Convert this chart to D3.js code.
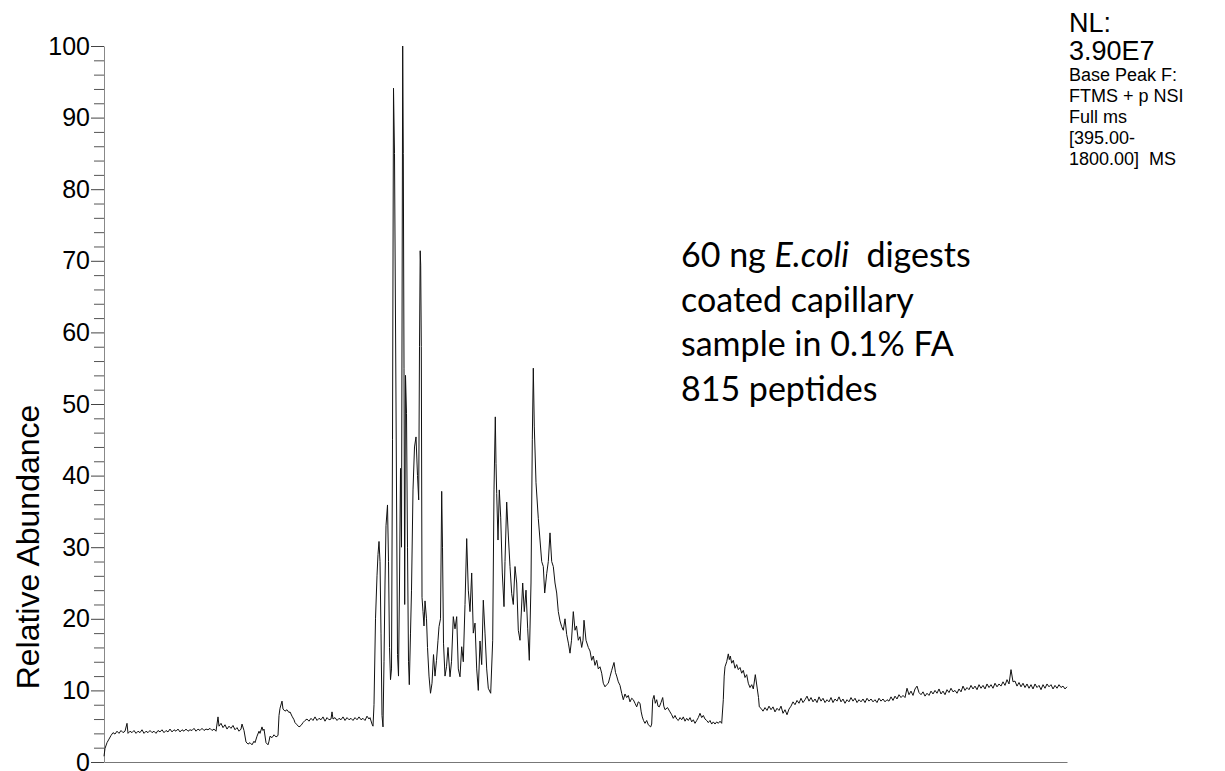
<!DOCTYPE html>
<html>
<head>
<meta charset="utf-8">
<script src="https://cdn.jsdelivr.net/npm/d3@7"></script>
<style>
  body { margin: 0; background: #fff; }
  svg { display: block; }
</style>
</head>
<body>
<div id="chart"></div>
<script>
// y axis ticks
var majorTicks = [0, 10, 20, 30, 40, 50, 60, 70, 80, 90, 100];
var minorTicks = [2, 4, 6, 8, 12, 14, 16, 18, 22, 24, 26, 28, 32, 34, 36, 38, 42, 44, 46, 48,
                  52, 54, 56, 58, 62, 64, 66, 68, 72, 74, 76, 78, 82, 84, 86, 88, 92, 94, 96, 98];

// base peak chromatogram: [retention time (min), relative abundance]
var tracePre = [
  [0.0,0.8],[0.1,1.9],[0.3,2.7],[0.5,3.2],[0.7,3.7],[0.9,4.1],[1.1,3.9],[1.3,4.3],[1.5,4.0],[1.7,4.4],
  [1.9,4.1],[2.1,4.3],[2.3,5.4],[2.4,4.0],[2.6,4.3],[2.8,4.1],[3.0,4.4],[3.2,4.0],[3.4,4.3],[3.6,4.1],
  [3.8,4.5],[4.0,4.0],[4.2,4.3],[4.4,4.1],[4.6,4.4],[4.8,4.1],[5.0,4.3],[5.2,4.0],[5.4,4.4],[5.6,4.2],
  [5.8,4.5],[6.0,4.1],[6.2,4.4],[6.4,4.2],[6.6,4.6],[6.8,4.2],[7.0,4.5],[7.2,4.3],[7.4,4.6],[7.6,4.2],
  [7.8,4.5],[8.0,4.3],[8.2,4.6],[8.4,4.3],[8.6,4.5],[8.8,4.4],[9.0,4.7],[9.2,4.3],[9.4,4.6],[9.6,4.4],
  [9.8,4.7],[10.0,4.4],[10.2,4.6],[10.4,4.5],[10.6,4.7],[10.8,4.4],[11.0,4.6],[11.2,4.3],[11.4,6.3],[11.5,5.0],
  [11.7,5.4],[11.9,4.8],[12.1,5.2],[12.3,4.6],[12.5,5.0],[12.7,4.7],[12.9,5.1],[13.1,4.5],[13.3,4.8],[13.5,4.3],
  [13.7,4.6],[13.8,5.3],[14.0,4.4],[14.2,2.8],[14.4,2.5],[14.6,2.7],[14.8,2.4],[15.0,2.9],[15.1,2.7],[15.3,3.6],
  [15.5,4.3],[15.6,4.0],[15.8,4.9],[15.9,4.4],[16.0,4.6],[16.2,2.7],[16.4,2.4],[16.5,2.9],[16.6,3.6],[16.8,3.4],
  [17.0,3.8],[17.2,3.5],[17.4,3.7],[17.5,6.5],[17.6,7.5],[17.8,8.5],[17.9,7.4],[18.1,7.1],[18.3,7.3],[18.5,6.9],
  [18.6,7.0],[18.8,6.4],[19.0,5.9],[19.1,5.5],[19.3,5.2],[19.5,4.9],[19.7,5.1],[19.9,5.5],[20.1,5.8],[20.3,6.0],
  [20.5,5.7],[20.7,6.1],[20.9,5.8],[21.1,6.3],[21.3,5.8],[21.5,6.1],[21.7,5.9],[21.9,6.3],[22.1,5.7],[22.3,6.2],
  [22.5,5.9],[22.7,6.0],[22.8,7.0],[22.9,6.0],[23.1,6.2],[23.3,5.8],[23.5,6.1],[23.7,5.9],[23.9,6.3],[24.1,5.8],
  [24.3,6.2],[24.5,5.9],[24.7,6.1],[24.9,5.8],[25.1,6.2],[25.3,5.9],[25.5,6.3],[25.7,5.9],[25.9,6.1],[26.1,5.8],
  [26.3,6.4],[26.5,6.0],[26.6,6.2],[26.8,5.3],[26.9,5.0]
];

var tracePeaks = [
  [27.0,8.0],[27.15,20],[27.3,26],[27.4,29],[27.5,30.8],[27.6,28],[27.7,18],[27.8,6.5],[27.9,4.9],[28.0,14],
  [28.1,25],[28.2,33],[28.35,35.9],[28.45,28],[28.55,16],[28.65,11.5],[28.75,13],[28.85,45],[28.95,94.1],[29.05,85],
  [29.2,50],[29.35,15],[29.45,12],[29.55,25],[29.65,41],[29.75,30],[29.87,100],[29.93,85],[30.0,55],[30.07,22],
  [30.15,54],[30.25,48.7],[30.35,30],[30.45,14],[30.53,10.8],[30.65,18],[30.75,24],[30.9,38],[31.05,44],[31.2,45.4],
  [31.35,40],[31.47,36.6],[31.55,58],[31.62,71.4],[31.67,69.4],[31.73,58],[31.8,23],[31.9,21],[32.0,19],[32.1,22.5],
  [32.25,20],[32.35,16],[32.5,12],[32.65,9.6],[32.8,11],[32.95,15],[33.1,12],[33.25,14.2],[33.4,17],[33.5,18.9],
  [33.65,20],[33.77,37.8],[33.85,30],[33.95,16.6],[34.1,12],[34.25,13.3],[34.4,16],[34.6,11.9],[34.75,14],[34.93,20.3],
  [35.1,18.6],[35.27,20.3],[35.43,13],[35.6,11.9],[35.77,16.1],[35.93,14],[36.1,22],[36.27,31.2],[36.43,24],[36.6,21],
  [36.77,26.4],[36.93,18],[37.1,19.4],[37.27,13],[37.43,10],[37.6,16.9],[37.77,13.6],[37.93,22.6],[38.1,18],[38.27,13],
  [38.43,10.3],[38.67,9.6],[38.87,17],[39.0,38],[39.13,48.2],[39.2,41.7],[39.27,37.5],[39.4,31],[39.53,38],[39.67,34.2],
  [39.83,26.4],[40.0,21.7],[40.1,28],[40.27,36.3],[40.43,31.7],[40.6,27.3],[40.77,23.5],[40.93,22],[41.1,27.3],[41.27,25],
  [41.43,18.4],[41.6,17],[41.87,25],[42.03,21],[42.2,24],[42.37,18.6],[42.53,14.2],[42.7,25],[42.83,45],[42.93,55],
  [43.03,46.8],[43.2,39],[43.43,34],[43.6,31],[43.77,28],[43.93,27.3],[44.07,23.6],[44.27,26.3],[44.43,28],[44.6,32],
  [44.77,28],[44.93,27.3],[45.1,25],[45.27,23.6],[45.43,21],[45.6,19.7],[45.77,18.9],[45.93,18.4],[46.1,20],[46.27,17.8],
  [46.45,16.5],[46.6,15.2],[46.75,17],[46.93,21],[47.1,18.4],[47.25,19],[47.43,17],[47.6,17.5],[47.77,16],[47.9,17],
  [48.0,19.8],[48.2,17],[48.43,16],[48.6,15.5],[48.77,14.2],[48.93,14.8],[49.1,13.5],[49.27,14.2],[49.43,13],[49.6,13.3],
  [49.77,12.4],[49.93,11],[50.1,10.5],[50.27,10.8],[50.43,11],[50.6,11.9],[50.77,12.8],[51.0,13.9],[51.15,12.5],[51.27,12],
  [51.43,11.2],[51.6,10.7],[51.77,9.6],[51.93,8.7],[52.1,9.5],[52.27,9.0],[52.43,9.3],[52.6,8.4],[52.77,8.9],[52.93,8.7],
  [53.1,8.2],[53.27,7.7],[53.43,8.4],[53.6,8.2],[53.72,7.0],[53.83,6.3],[53.95,5.8],[54.1,5.4],[54.27,5.8],[54.43,5.2],
  [54.67,4.9],[54.77,5.3],[54.87,8.7],[55.0,9.3],[55.13,8.2],[55.27,8.7],[55.4,7.8],[55.53,7.7],[55.7,8.3],[55.87,9.0],
  [55.98,7.8],[56.1,7.3],[56.35,7.6],[56.6,7.0],[56.77,6.6],[56.93,6.1],[57.1,6.5],[57.27,6.0],[57.43,5.8],[57.6,6.2],
  [57.77,5.9],[57.93,6.3],[58.1,5.7],[58.27,6.1],[58.43,5.8],[58.6,6.2],[58.77,5.6],[58.93,5.9],[59.1,5.4],[59.27,5.8],
  [59.43,6.2],[59.6,6.8],[59.77,6.2],[59.93,6.5],[60.1,6.0],[60.27,5.8],[60.43,5.5],[60.6,5.8],[60.77,5.3],[60.93,5.6],
  [61.1,5.3],[61.27,5.6],[61.43,5.4],[61.6,5.7],[61.77,5.4]
];

var tracePost = [
  [61.93,8.7],[62.02,12],[62.1,13.3],[62.27,14.0],[62.43,15.1],[62.53,14.3],[62.63,14.8],[62.77,13.8],[62.93,14.2],[63.1,13.1],
  [63.27,13.6],[63.43,12.9],[63.6,13.2],[63.77,12.4],[63.93,12.8],[64.1,11.8],[64.27,12.2],[64.43,11.0],[64.6,10.4],[64.77,10.8],
  [64.93,10.2],[65.13,12.2],[65.33,10.2],[65.45,9.0],[65.53,7.7],[65.7,7.5],[65.9,7.1],[66.1,7.6],[66.3,7.2],[66.5,7.8],
  [66.7,7.3],[66.9,7.7],[67.1,7.0],[67.3,7.5],[67.5,7.2],[67.7,7.8],[67.9,6.8],[68.1,7.3],[68.3,6.6],[68.5,7.4],
  [68.7,7.8],[68.9,8.4],[69.1,8.0],[69.3,8.6],[69.5,8.2],[69.7,8.9],[69.9,8.3],[70.1,8.7],[70.3,9.2],[70.5,8.5],
  [70.7,9.0],[70.9,8.4],[71.1,8.8],[71.3,8.3],[71.5,9.1],[71.7,8.5],[71.9,8.9],[72.1,8.3],[72.3,8.7],[72.5,8.4],
  [72.7,9.0],[72.9,8.3],[73.1,8.8],[73.3,8.5],[73.5,9.1],[73.7,8.4],[73.9,8.8],[74.1,8.2],[74.3,8.7],[74.5,8.4],
  [74.7,9.0],[74.9,8.5],[75.1,8.9],[75.3,8.3],[75.5,8.7],[75.7,8.4],[75.9,8.8],[76.1,8.3],[76.3,8.9],[76.5,8.5],
  [76.7,8.8],[76.9,8.4],[77.1,8.7],[77.3,8.3],[77.5,8.9],[77.7,8.5],[77.9,8.8],[78.1,8.4],[78.3,8.7],[78.5,8.5],
  [78.7,9.1],[78.9,8.6],[79.1,9.2],[79.3,8.8],[79.5,9.4],[79.7,9.0],[79.9,9.3],[80.1,9.0],[80.3,10.3],[80.5,9.4],
  [80.7,9.9],[80.9,9.3],[81.1,10.2],[81.3,10.6],[81.5,9.7],[81.7,9.4],[81.9,9.8],[82.1,9.2],[82.3,9.6],[82.5,9.3],
  [82.7,9.9],[82.9,9.5],[83.1,10.0],[83.3,9.6],[83.5,10.2],[83.7,9.5],[83.9,9.9],[84.1,9.4],[84.3,10.1],[84.5,9.7],
  [84.7,10.3],[84.9,9.8],[85.1,10.0],[85.3,9.6],[85.5,10.2],[85.7,9.8],[85.9,10.6],[86.1,10.0],[86.3,10.4],[86.5,10.1],
  [86.7,10.7],[86.9,10.2],[87.1,10.6],[87.3,10.1],[87.5,10.8],[87.7,10.3],[87.9,10.7],[88.1,10.2],[88.3,10.9],[88.5,10.4],
  [88.7,10.8],[88.9,10.3],[89.1,11.0],[89.3,10.5],[89.5,10.9],[89.7,10.6],[89.9,11.2],[90.1,10.7],[90.3,11.5],[90.5,10.9],
  [90.7,12.9],[90.9,11.2],[91.1,11.3],[91.3,10.6],[91.5,11.1],[91.7,10.5],[91.9,11.0],[92.1,10.4],[92.3,10.9],[92.5,10.3],
  [92.7,10.8],[92.9,10.2],[93.1,10.9],[93.3,10.4],[93.5,10.7],[93.7,10.1],[93.9,10.8],[94.1,10.3],[94.3,10.9],[94.5,10.5],
  [94.7,10.8],[94.9,10.2],[95.1,10.7],[95.3,10.3],[95.5,10.8],[95.7,10.4],[95.9,10.6],[96.1,10.2],[96.3,10.5]
];

var yLabel = 'Relative Abundance';
var infoTitle = ['NL:', '3.90E7'];
var infoLines = ['Base Peak F:', 'FTMS + p NSI', 'Full ms', '[395.00-', '1800.00]  MS'];
var noteLines = [
  [{t: '60 ng '}, {t: 'E.coli', i: true}, {t: '  digests'}],
  [{t: 'coated capillary'}],
  [{t: 'sample in 0.1% FA'}],
  [{t: '815 peptides'}]
];

var width = 1225, height = 771;
var margin = {top: 46, right: 158, bottom: 9, left: 104};

var trace = tracePre.concat(tracePeaks, tracePost);

var svg = d3.select('#chart').append('svg')
    .attr('width', width)
    .attr('height', height);

var x = d3.scaleLinear()
    .domain([0, 96.3])
    .range([margin.left, width - margin.right]);

var y = d3.scaleLinear()
    .domain([0, 100])
    .range([height - margin.bottom, margin.top]);

// minor ticks first, major on top
svg.append('g')
    .attr('class', 'axis minor')
    .attr('transform', 'translate(' + margin.left + ',0)')
    .call(d3.axisLeft(y).tickValues(minorTicks).tickSize(10).tickFormat(''))
    .call(function(g){ g.select('.domain').remove(); })
    .selectAll('line').attr('stroke', '#555');

var yAxis = svg.append('g')
    .attr('class', 'axis major')
    .attr('transform', 'translate(' + margin.left + ',0)')
    .call(d3.axisLeft(y).tickValues(majorTicks).tickSize(13).tickSizeOuter(0).tickPadding(1));

yAxis.select('.domain').attr('stroke', '#888');
yAxis.selectAll('line').attr('stroke', '#444');
yAxis.selectAll('text')
    .attr('fill', '#000')
    .style('font-family', '"Liberation Sans", Arial, sans-serif')
    .style('font-size', '25px');

// x axis baseline, no ticks
svg.append('g')
    .attr('transform', 'translate(0,' + y(0) + ')')
    .call(d3.axisBottom(x).tickValues([]).tickSizeOuter(0))
    .select('.domain').attr('stroke', '#777');

var line = d3.line()
    .x(function(d){ return x(d[0]); })
    .y(function(d){ return y(d[1]); });

svg.append('path')
    .datum(trace)
    .attr('fill', 'none')
    .attr('stroke', '#111')
    .attr('stroke-width', 1)
    .attr('d', line);

svg.append('text')
    .attr('transform', 'translate(39,' + 547 + ') rotate(-90)')
    .attr('text-anchor', 'middle')
    .style('font-family', '"Liberation Sans", Arial, sans-serif')
    .style('font-size', '32px')
    .text(yLabel);

var info = svg.append('g')
    .style('font-family', '"Liberation Sans", Arial, sans-serif');

info.selectAll('text.title')
    .data(infoTitle)
    .enter().append('text')
    .attr('class', 'title')
    .attr('x', 1069)
    .attr('y', function(d, i){ return 32 + i * 28; })
    .style('font-size', '27px')
    .text(function(d){ return d; });

info.selectAll('text.line')
    .data(infoLines)
    .enter().append('text')
    .attr('class', 'line')
    .attr('x', 1069)
    .attr('y', function(d, i){ return 81 + i * 21; })
    .style('font-size', '18px')
    .style('white-space', 'pre')
    .text(function(d){ return d; });

var note = svg.append('g')
    .style('font-family', 'Lato, "Open Sans", sans-serif')
    .style('font-size', '34px');

note.selectAll('text')
    .data(noteLines)
    .enter().append('text')
    .attr('x', 681)
    .attr('y', function(d, i){ return 267 + i * 44.5; })
    .style('white-space', 'pre')
    .selectAll('tspan')
    .data(function(d){ return d; })
    .enter().append('tspan')
    .style('font-style', function(d){ return d.i ? 'italic' : 'normal'; })
    .text(function(d){ return d.t; });
</script>
</body>
</html>
